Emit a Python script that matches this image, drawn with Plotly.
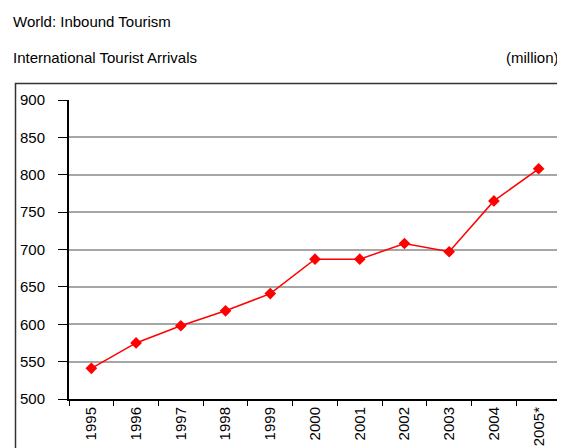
import plotly.graph_objects as go

years = ["1995", "1996", "1997", "1998", "1999", "2000", "2001", "2002", "2003", "2004", "2005*"]
arrivals = [541, 575, 598, 618, 641, 687, 687, 708, 697, 765, 808]
y_ticks = [500, 550, 600, 650, 700, 750, 800, 850, 900]

# the page body has an 8px margin, so the figure is drawn 8px smaller
OFF = 8
W, H = 565 - OFF, 448 - OFF
L, T = 69 - OFF, 100 - OFF
PLOT_R, PLOT_B = 561 - OFF, 399 - OFF
R, B = W - PLOT_R, H - PLOT_B
pw, ph = PLOT_R - L, PLOT_B - T

def px_x(x):
    return (x - OFF - L) / pw

def px_y(y):
    return (PLOT_B - (y - OFF)) / ph

font = "Liberation Sans, Arial, sans-serif"

fig = go.Figure()
fig.add_trace(go.Scatter(
    x=years, y=arrivals, mode="lines+markers",
    line=dict(color="#ff0000", width=1.5),
    marker=dict(symbol="diamond", size=9, color="#ff0000"),
    showlegend=False, hoverinfo="x+y",
))

fig.update_layout(
    width=W, height=H,
    margin=dict(l=L, r=R, t=T, b=B, autoexpand=False),
    paper_bgcolor="white", plot_bgcolor="white",
    font=dict(family=font, color="black", size=14),
    xaxis=dict(
        type="category", range=[-0.5, 10.5], tickson="boundaries",
        ticks="outside", ticklen=5, tickcolor="black", tickwidth=1,
        showline=True, linecolor="black", linewidth=2,
        showgrid=False, tickangle=-90, tickfont=dict(size=15),
        fixedrange=True,
    ),
    yaxis=dict(
        range=[500, 900], tickvals=y_ticks,
        ticks="outside", ticklen=9, tickcolor="black", tickwidth=1,
        showline=True, linecolor="black", linewidth=2,
        showgrid=True, gridcolor="#a6a6a6", gridwidth=2,
        tickfont=dict(size=15), ticklabelstandoff=10,
        zeroline=False, fixedrange=True,
    ),
    shapes=[dict(
        type="rect", xref="paper", yref="paper",
        x0=px_x(15.5), x1=px_x(563), y0=px_y(470), y1=px_y(83.5),
        line=dict(color="#333333", width=1.5), layer="below",
    )],
    annotations=[
        dict(text="World: Inbound Tourism", xref="paper", yref="paper",
             x=px_x(11), y=px_y(22), xanchor="left", yanchor="middle",
             showarrow=False, font=dict(size=15)),
        dict(text="International Tourist Arrivals", xref="paper", yref="paper",
             x=px_x(11), y=px_y(57), xanchor="left", yanchor="middle",
             showarrow=False, font=dict(size=15)),
        dict(text="(million)", xref="paper", yref="paper",
             x=px_x(561), y=px_y(57), xanchor="right", yanchor="middle",
             showarrow=False, font=dict(size=15)),
    ],
)

fig.write_html("out.html")
